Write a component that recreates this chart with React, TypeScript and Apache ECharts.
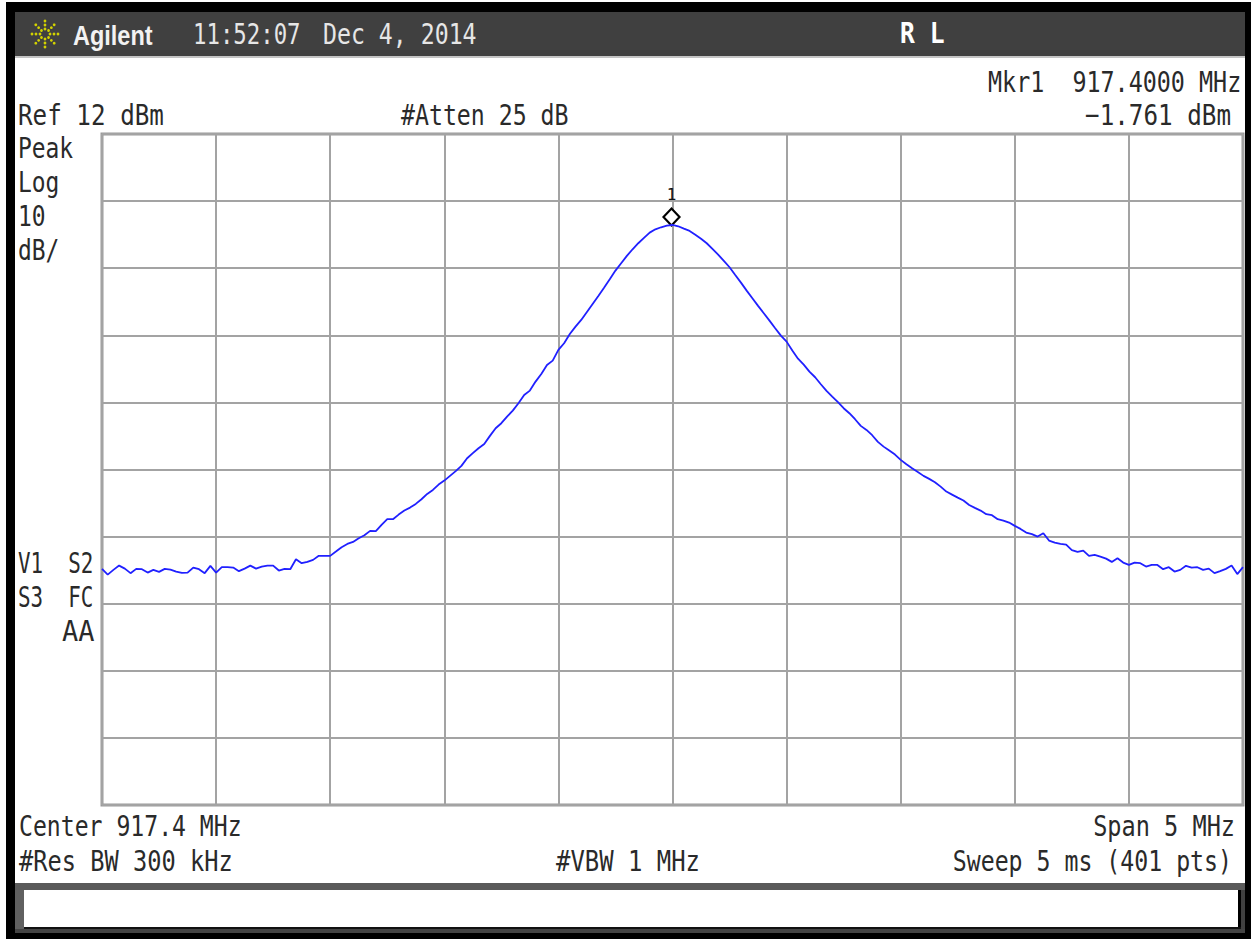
import React, { useEffect, useRef } from "react";
import * as echarts from "echarts";

// Instrument settings
const REF_LEVEL_DBM = 12;
const SPAN_MHZ = 5;
const DIV_DB = 10;
const MARKER_INDEX = 100;

// Trace: 201 samples over the span, dBm
const traceDbm = [
  -52.81, -53.66, -52.96, -52.32, -52.77, -53.45, -52.81, -52.86, -53.36, -52.96,
  -53.26, -52.81, -52.92, -53.21, -53.41, -53.36, -52.62, -52.86, -53.45, -52.36,
  -53.36, -52.56, -52.56, -52.62, -53.15, -52.77, -52.32, -52.77, -52.47, -52.32,
  -52.32, -53.06, -52.81, -52.86, -51.37, -51.96, -51.77, -51.47, -50.87, -50.87,
  -50.87, -50.23, -49.58, -49.09, -48.79, -48.24, -47.79, -47.15, -47.19, -46.26,
  -45.41, -45.41, -44.72, -44.12, -43.68, -43.13, -42.43, -41.64, -41.04, -40.25,
  -39.65, -38.95, -38.25, -37.46, -36.32, -35.57, -34.83, -34.19, -32.99, -31.85,
  -31.1, -30.12, -29.22, -28.12, -26.89, -26.24, -24.9, -23.76, -22.42, -21.77,
  -20.18, -19.18, -17.8, -16.71, -15.71, -14.52, -13.33, -12.13, -10.9, -9.65,
  -8.36, -7.26, -6.17, -5.18, -4.28, -3.49, -2.7, -2.2, -1.9, -1.66,
  -1.56, -1.75, -2.11, -2.45, -3, -3.6, -4.28, -5.13, -5.98, -6.92,
  -7.86, -9.01, -10.15, -11.34, -12.48, -13.62, -14.71, -15.81, -16.95, -18.05,
  -18.94, -20.28, -21.48, -22.37, -23.41, -24.25, -25.29, -26.29, -27.14, -27.97,
  -28.87, -29.61, -30.51, -31.5, -32.1, -32.89, -33.89, -34.59, -35.18, -35.78,
  -36.57, -37.21, -37.81, -38.36, -38.95, -39.4, -39.89, -40.55, -41.29, -41.74,
  -42.19, -42.63, -43.28, -43.72, -44.12, -44.66, -44.81, -45.41, -45.61, -45.91,
  -46.4, -46.85, -47.4, -47.64, -48, -47.49, -48.59, -48.89, -49.09, -49.19,
  -50.02, -50.28, -50.08, -50.87, -50.73, -50.98, -51.28, -51.77, -51.22, -51.87,
  -52.22, -51.87, -51.96, -52.47, -52.22, -52.22, -52.86, -52.56, -53.21, -52.96,
  -52.36, -52.62, -52.56, -52.96, -52.77, -53.45, -53.15, -52.81, -52.32, -53.59,
  -52.56,
];

const sweepStep = SPAN_MHZ / (traceDbm.length - 1);
const traceData = traceDbm.map((v, i) => [-SPAN_MHZ / 2 + i * sweepStep, v - REF_LEVEL_DBM]);

const MONO = '"DejaVu Sans Mono", monospace';
const INK = "#2a2a2a";

const label = (
  text: string,
  x: number,
  y: number,
  scaleX = 0.79,
  align: "left" | "right" = "left",
  fill = INK,
  extra: Record<string, unknown> = {},
) => ({
  type: "text",
  x,
  y,
  scaleX,
  silent: true,
  style: { text, fill, font: `29px ${MONO}`, align, verticalAlign: "middle", ...extra },
});

const box = (x: number, y: number, width: number, height: number, fill: string) => ({
  type: "rect",
  silent: true,
  shape: { x, y, width, height },
  style: { fill },
});

function sparkDots() {
  const dots: unknown[] = [];
  const cx = 45;
  const cy = 34;
  for (let a = 0; a < 8; a++) {
    const t = (a * Math.PI) / 4;
    for (const r of [5, 9, 13]) {
      dots.push({
        type: "circle",
        silent: true,
        shape: { cx: cx + Math.cos(t) * r, cy: cy + Math.sin(t) * r, r: 1.4 },
        style: { fill: "#d2d200" },
      });
    }
  }
  return dots;
}

export default function App() {
  const ref = useRef<HTMLDivElement>(null);

  useEffect(() => {
    document.body.style.margin = "0";
    const chart = echarts.init(ref.current!, undefined, { renderer: "svg" });
    chart.setOption({
      animation: false,
      backgroundColor: "#ffffff",
      grid: {
        left: 102,
        top: 134,
        width: 1141,
        height: 671,
        show: true,
        borderColor: "#9a9a9a",
        borderWidth: 3,
        backgroundColor: "transparent",
      },
      xAxis: {
        type: "value",
        min: -SPAN_MHZ / 2,
        max: SPAN_MHZ / 2,
        interval: SPAN_MHZ / 10,
        axisLabel: { show: false },
        axisTick: { show: false },
        axisLine: { show: false },
        splitLine: { show: true, lineStyle: { color: "#a3a3a3", width: 2 } },
      },
      yAxis: {
        type: "value",
        min: -DIV_DB * 10,
        max: 0,
        interval: DIV_DB,
        axisLabel: { show: false },
        axisTick: { show: false },
        axisLine: { show: false },
        splitLine: { show: true, lineStyle: { color: "#a3a3a3", width: 2 } },
      },
      series: [
        {
          type: "line",
          data: traceData,
          showSymbol: false,
          smooth: false,
          z: 5,
          lineStyle: { color: "#2020ff", width: 1.8 },
          markPoint: {
            silent: true,
            symbol: "diamond",
            symbolSize: [16, 17],
            symbolOffset: [-1, -8],
            itemStyle: { color: "#ffffff", borderColor: "#000000", borderWidth: 2.2 },
            label: {
              show: true,
              position: "top",
              distance: 5,
              formatter: "1",
              color: "#111111",
              fontFamily: MONO,
              fontSize: 16,
            },
            data: [{ coord: traceData[MARKER_INDEX] }],
          },
        },
      ],
      graphic: [
        // instrument frame
        box(6, 2, 1245, 10, "#000000"),
        box(6, 2, 9, 937, "#000000"),
        box(1245, 2, 6, 937, "#000000"),
        box(6, 933, 1245, 6, "#000000"),
        // header bar
        box(15, 12, 1230, 45, "#404040"),
        box(15, 56, 1230, 2, "#c4c4c4"),
        // message panel
        box(15, 883, 1230, 7, "#5a5a5a"),
        box(15, 890, 9, 43, "#606060"),
        box(1238, 890, 7, 43, "#404040"),
        box(1238, 890, 3, 40, "#000000"),
        box(24, 927, 1217, 2, "#111111"),
        box(15, 929, 1230, 4, "#444444"),
        ...sparkDots(),
        {
          type: "text",
          x: 73,
          y: 35,
          scaleX: 0.87,
          silent: true,
          style: {
            text: "Agilent",
            fill: "#f2f2f2",
            font: 'bold 27px "Liberation Sans", sans-serif',
            align: "left",
            verticalAlign: "middle",
          },
        },
        label("11:52:07", 193, 34, 0.77, "left", "#e6e6e6"),
        label("Dec 4, 2014", 323, 34, 0.8, "left", "#e6e6e6"),
        label("R L", 900, 33, 0.85, "left", "#ffffff", { font: `bold 29px ${MONO}` }),
        label("Mkr1  917.4000 MHz", 988, 82, 0.806),
        label("Ref 12 dBm", 18, 115, 0.836),
        label("#Atten 25 dB", 401, 115, 0.8),
        label("\u22121.761 dBm", 1231, 115, 0.836, "right"),
        label("Peak", 18, 148),
        label("Log", 18, 182),
        label("10", 18, 216),
        label("dB/", 18, 250),
        label("V1  S2", 18, 563, 0.72),
        label("S3  FC", 18, 597, 0.72),
        label("AA", 62, 631, 0.93),
        label("Center 917.4 MHz", 19, 826, 0.797),
        label("#Res BW 300 kHz", 19, 861, 0.817),
        label("#VBW 1 MHz", 556, 861, 0.825),
        label("Span 5 MHz", 1235, 826, 0.813, "right"),
        label("Sweep 5 ms (401 pts)", 1232, 861, 0.8, "right"),
      ],
    });
    return () => chart.dispose();
  }, []);

  return (
    <div
      ref={ref}
      style={{ position: "fixed", left: 0, top: 0, width: 1251, height: 939 }}
    />
  );
}
